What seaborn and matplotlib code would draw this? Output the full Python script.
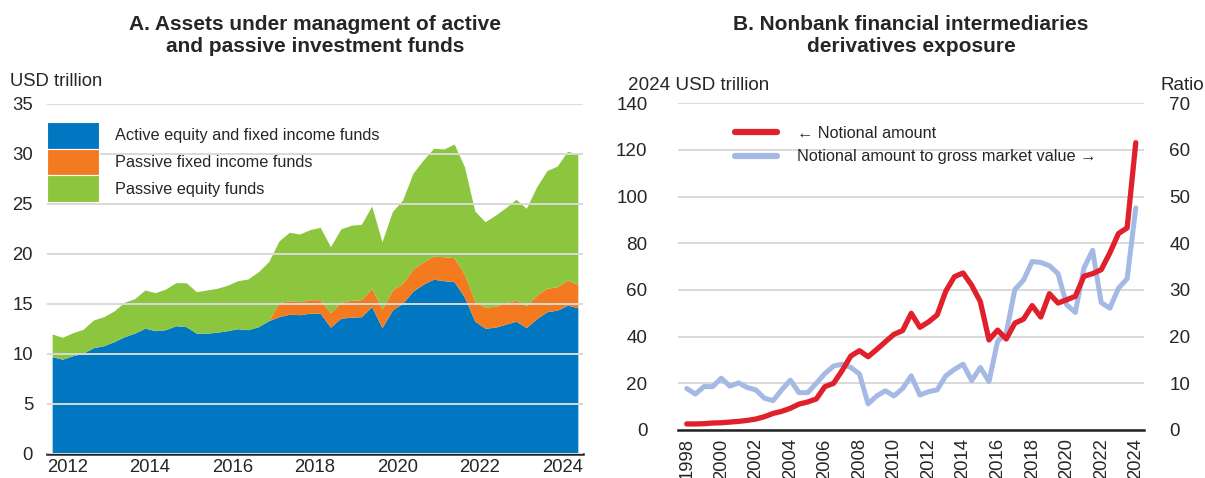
import numpy as np
import pandas as pd
import matplotlib
matplotlib.use("Agg")
import matplotlib.pyplot as plt
import seaborn as sns
from matplotlib.lines import Line2D

# ---- Panel A: AUM of active and passive funds, USD trillion, quarterly 2012Q1-2024Q4
quarters = pd.period_range("2012Q1", "2024Q4", freq="Q")
active = [9.70, 9.45, 9.80, 10.05, 10.60, 10.80, 11.20, 11.70, 12.05, 12.55,
          12.30, 12.40, 12.80, 12.70, 12.05, 12.05, 12.15, 12.30, 12.50, 12.40,
          12.70, 13.30, 13.70, 13.95, 13.90, 14.05, 14.05, 12.65, 13.55, 13.65,
          13.70, 14.70, 12.60, 14.35, 15.05, 16.25, 16.95, 17.45, 17.30, 17.20,
          15.65, 13.25, 12.55, 12.65, 12.95, 13.25, 12.60, 13.50, 14.20, 14.35,
          14.85, 14.60]
passive_fi = [0, 0, 0, 0, 0, 0, 0, 0, 0, 0,
              0, 0, 0, 0, 0, 0, 0, 0, 0, 0,
              0, 0, 1.40, 1.35, 1.30, 1.35, 1.35, 1.45, 1.60, 1.70,
              1.70, 1.85, 1.85, 2.00, 2.00, 2.20, 2.25, 2.30, 2.40, 2.40,
              2.30, 2.00, 2.10, 2.10, 2.15, 2.10, 2.20, 2.35, 2.35, 2.35,
              2.50, 2.35]
passive_eq = [2.27, 2.19, 2.30, 2.39, 2.77, 2.90, 3.07, 3.44, 3.45, 3.82,
              3.80, 4.07, 4.30, 4.40, 4.15, 4.32, 4.39, 4.54, 4.80, 5.07,
              5.50, 5.90, 6.17, 6.84, 6.77, 7.00, 7.24, 6.60, 7.32, 7.49,
              7.54, 8.22, 6.75, 7.85, 8.32, 9.59, 10.17, 10.79, 10.77, 11.37,
              10.75, 9.03, 8.55, 9.10, 9.50, 10.10, 9.74, 10.83, 11.76, 12.07,
              12.90, 13.00]
labels_a = ["Active equity and fixed income funds",
            "Passive fixed income funds",
            "Passive equity funds"]

# ---- Panel B: NBFI derivatives exposure, semiannual 1998H1-2024H1
halfyears = pd.period_range("1998-06", "2024-06", freq="6M")
notional = [2.6, 2.6, 2.7, 3.0, 3.1, 3.4, 3.7, 4.1, 4.7, 5.7,
            7.1, 8.0, 9.3, 11.1, 12.0, 13.3, 18.6, 20.0, 25.5, 31.7,
            34.0, 31.4, 34.5, 37.8, 41.0, 42.6, 50.0, 44.0, 46.3, 49.3,
            59.5, 65.7, 67.3, 62.0, 55.0, 38.6, 42.8, 39.0, 45.8, 47.5,
            53.3, 48.4, 58.4, 54.4, 55.8, 57.3, 65.9, 67.0, 68.7, 75.9,
            84.2, 86.6, 123.1]
ratio = [8.9, 7.7, 9.3, 9.3, 11.1, 9.4, 10.1, 9.1, 8.6, 6.8,
         6.3, 8.6, 10.7, 8.0, 8.0, 10.0, 12.1, 13.7, 14.1, 13.4,
         12.0, 5.6, 7.3, 8.4, 7.3, 8.9, 11.6, 7.5, 8.2, 8.6,
         11.6, 13.0, 14.1, 10.6, 13.4, 10.4, 19.0, 20.8, 30.1, 32.1,
         36.1, 35.9, 35.2, 33.5, 26.8, 25.2, 34.7, 38.5, 27.3, 26.1,
         30.4, 32.4, 47.6]
labels_b = ["\u2190 Notional amount", "Notional amount to gross market value \u2192"]

BLUE = "#0077c0"
ORANGE = "#f47a20"
GREEN = "#8cc63f"
RED = "#e0202a"
LBLUE = "#a4b9e4"
GRID = "#d9d9d9"
DARK = "#222222"

sns.set_theme(style="white")
plt.rcParams["font.family"] = ["Liberation Sans", "DejaVu Sans"]
plt.rcParams["font.size"] = 13

# decimal year positions (mid quarter / end of half-year)
t_q = quarters.year + (quarters.quarter - 1) / 4 + 0.125
t_h = halfyears.year + halfyears.month / 12

fig = plt.figure(figsize=(12.05, 4.78), dpi=100)
W, H = 1205, 478
axA = fig.add_axes([47 / W, 1 - 453.7 / H, 536 / W, 350 / H])
axB = fig.add_axes([678.1 / W, 1 - 430 / H, 466.3 / W, 326.7 / H])

# ---------------- Panel A
axA.stackplot(t_q, active, passive_fi, passive_eq,
              colors=[BLUE, ORANGE, GREEN], labels=labels_a, linewidth=0)
axA.set_xlim(2012, 2025)
axA.set_ylim(0, 35)
axA.set_yticks(range(0, 36, 5))
axA.set_axisbelow(False)
axA.grid(axis="y", color=GRID, lw=1.4)
axA.grid(axis="x", visible=False)
axA.set_xticks(np.arange(2012, 2026))
axA.set_xticklabels([])
yrsA = np.arange(2012, 2025, 2)
axA.set_xticks(yrsA + 0.5, minor=True)
axA.set_xticklabels([str(y) for y in yrsA], minor=True)
axA.tick_params(axis="x", which="major", direction="in", length=7, width=1.2, color=DARK)
axA.tick_params(axis="x", which="minor", length=0, pad=4, labelsize=13.3)
axA.tick_params(axis="y", length=0, pad=10, labelsize=13.3)
for s in ["left", "right", "top"]:
    axA.spines[s].set_visible(False)
axA.spines["bottom"].set_color(DARK)
axA.spines["bottom"].set_linewidth(1.8)
axA.set_xlabel("")
axA.set_ylabel("")
leg = axA.legend(loc="upper left", bbox_to_anchor=(0.0, 0.948), frameon=False,
                 borderaxespad=0, borderpad=0, fontsize=11.7, handlelength=3.2,
                 handleheight=2.15, labelspacing=0.0, handletextpad=1.0)
for p in leg.get_patches():
    p.set_edgecolor("white")
    p.set_linewidth(0.8)

# ---------------- Panel B
dfB = pd.DataFrame({"year": t_h, "notional": notional, "ratio": ratio})
axB2 = axB.twinx()
sns.lineplot(data=dfB, x="year", y="ratio", ax=axB2, color=LBLUE, lw=3.6, legend=False)
sns.lineplot(data=dfB, x="year", y="notional", ax=axB, color=RED, lw=3.8, legend=False)
axB.set_zorder(axB2.get_zorder() + 1)
axB.patch.set_visible(False)

axB.set_xlim(1998, 2025)
axB.set_ylim(0, 140)
axB2.set_ylim(0, 70)
axB.set_yticks(range(0, 141, 20))
axB2.set_yticks(range(0, 71, 10))
axB2.grid(axis="y", color=GRID, lw=1.4)
axB2.grid(axis="x", visible=False)
axB.grid(False)
axB.set_xticks(np.arange(1998, 2026))
axB.set_xticklabels([])
yrsB = np.arange(1998, 2025, 2)
axB.set_xticks(yrsB + 0.5, minor=True)
axB.set_xticklabels([str(y) for y in yrsB], minor=True, rotation=90)
axB.tick_params(axis="x", which="major", direction="in", length=7, width=1.2, color=DARK)
axB.tick_params(axis="x", which="minor", length=0, pad=6, labelsize=13.3)
axB.tick_params(axis="y", length=0, pad=22, labelsize=13.6)
axB2.tick_params(axis="y", length=0, pad=18, labelsize=13.6)
for ax in (axB, axB2):
    for s in ["left", "right", "top", "bottom"]:
        ax.spines[s].set_visible(False)
axB.spines["bottom"].set_visible(True)
axB.spines["bottom"].set_color(DARK)
axB.spines["bottom"].set_linewidth(1.8)
for ax in (axB, axB2):
    ax.set_xlabel("")
    ax.set_ylabel("")

handles = [Line2D([], [], color=RED, lw=4.5), Line2D([], [], color=LBLUE, lw=4.5)]
axB.legend(handles, labels_b,
           loc="upper left", bbox_to_anchor=(0.122, 0.93), frameon=False,
           borderaxespad=0, borderpad=0, fontsize=11.7, handlelength=2.6,
           labelspacing=0.5, handletextpad=1.2)

# ---------------- titles and unit labels
fig.text(315 / W, 1 - 35 / H, "A. Assets under managment of active\nand passive investment funds",
         ha="center", va="center", fontsize=15, fontweight="bold", linespacing=1.2)
fig.text(911 / W, 1 - 35 / H, "B. Nonbank financial intermediaries\nderivatives exposure",
         ha="center", va="center", fontsize=15, fontweight="bold", linespacing=1.2)
fig.text(10 / W, 1 - 82 / H, "USD trillion", ha="left", va="center", fontsize=13.3)
fig.text(628 / W, 1 - 85 / H, "2024 USD trillion", ha="left", va="center", fontsize=13.6)
fig.text(1160 / W, 1 - 85 / H, "Ratio", ha="left", va="center", fontsize=13.6)

fig.savefig("out.png", dpi=100)
